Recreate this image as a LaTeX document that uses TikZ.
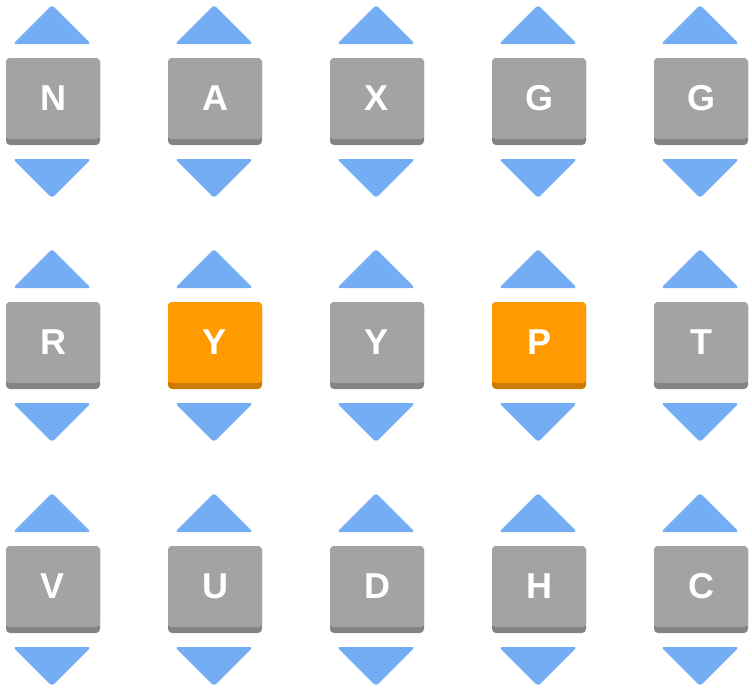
\documentclass[tikz,border=0pt]{standalone}
\usepackage{fontspec}
\setmainfont{Liberation Sans}
\begin{document}
\definecolor{tg}{HTML}{A3A3A3}\definecolor{tgd}{HTML}{848484}
\definecolor{to}{HTML}{FF9A00}\definecolor{tod}{HTML}{CC7A00}
\definecolor{tb}{HTML}{74ADF3}
\begin{tikzpicture}[x=1pt,y=-1pt,
  tri/.style={fill=tb,rounded corners=3pt},
  lbl/.style={text=white,font=\bfseries\fontsize{36}{36}\selectfont,inner sep=0pt}]
\useasboundingbox (0,0) rectangle (752,688);
\newcommand{\tile}[5]{% x, y, main, dark, letter ; name
  \fill[#4,rounded corners=4pt] (#1,#2) rectangle ++(94,87);
  \fill[#3,rounded corners=4pt] (#1,#2) rectangle ++(94,81);
  \fill[#3] (#1,#2+70) rectangle ++(94,10);
  \fill[tri] (#1+46,#2-53) -- (#1+85,#2-14) -- (#1+7,#2-14) -- cycle;
  \fill[tri] (#1+46,#2+140) -- (#1+85,#2+101) -- (#1+7,#2+101) -- cycle;
}
\foreach \L/\c/\r/\m/\d in {N/0/0/tg/tgd,A/1/0/tg/tgd,X/2/0/tg/tgd,G/3/0/tg/tgd,G/4/0/tg/tgd,
  R/0/1/tg/tgd,Y/1/1/to/tod,Y/2/1/tg/tgd,P/3/1/to/tod,T/4/1/tg/tgd,
  V/0/2/tg/tgd,U/1/2/tg/tgd,D/2/2/tg/tgd,H/3/2/tg/tgd,C/4/2/tg/tgd}{
  \pgfmathsetmacro\xx{6+162*\c}\pgfmathsetmacro\yy{58+244*\r}
  \tile{\xx}{\yy}{\m}{\d}{\L}
  \node[lbl] (t\c\r) at (\xx+47,\yy+40) {\L};
}
\end{tikzpicture}
\end{document}
